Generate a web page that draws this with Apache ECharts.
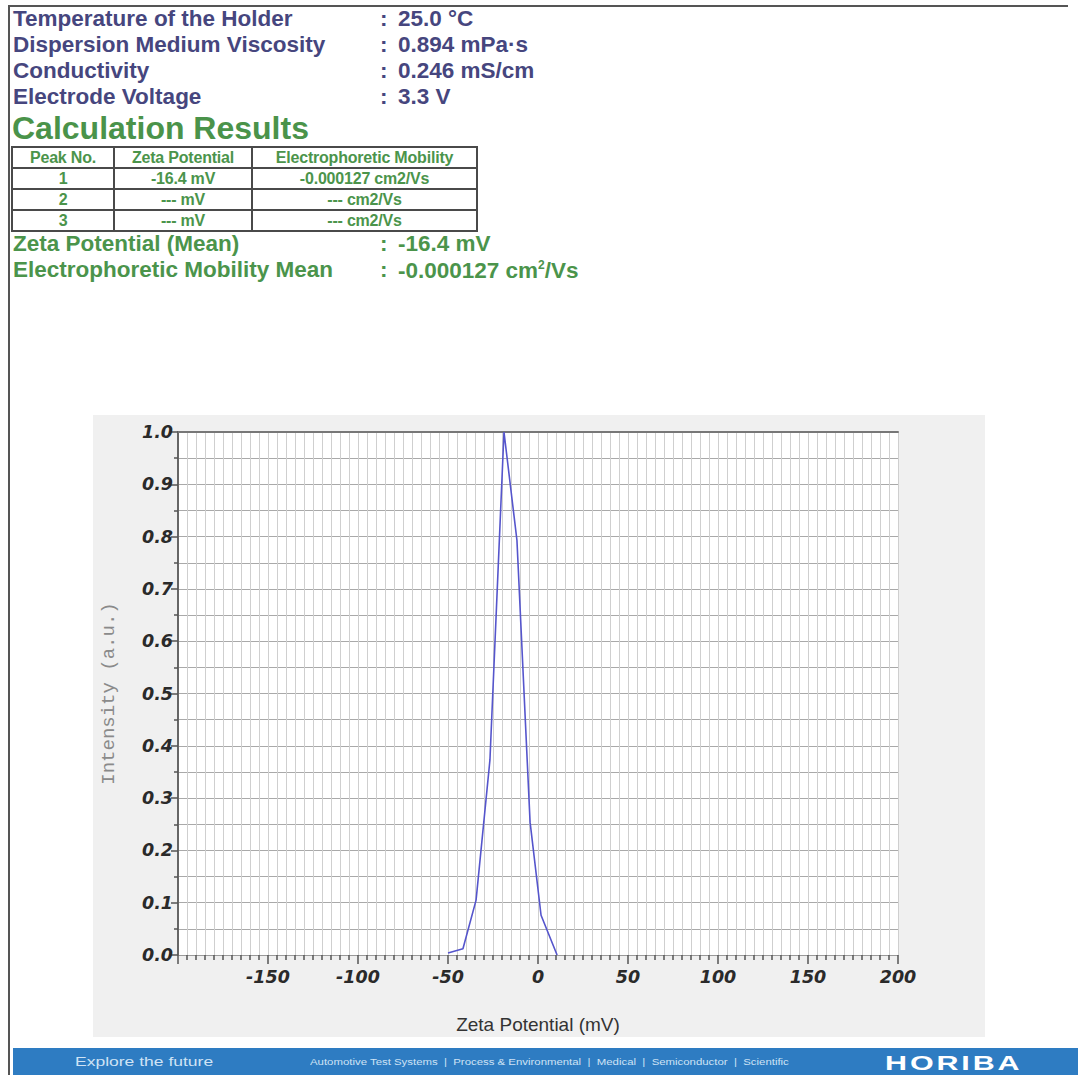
<!DOCTYPE html>
<html>
<head>
<meta charset="utf-8">
<script src="https://cdn.jsdelivr.net/npm/echarts@6/dist/echarts.min.js"></script>
<style>
  html, body { margin: 0; padding: 0; background: #fff; }
  body { width: 1078px; height: 1075px; position: relative; overflow: hidden; font-family: "Liberation Sans", Arial, sans-serif; }
  .frameTop { position: absolute; left: 8px; top: 5px; width: 1060px; height: 2px; background: #555; }
  .frameLeft { position: absolute; left: 8px; top: 5px; width: 2px; height: 1070px; background: #555; }
  .t { position: absolute; white-space: nowrap; font-weight: bold; line-height: 1; }
  .navy { color: #46467e; font-size: 22.5px; }
  .green { color: #4b944b; font-size: 22.5px; }
  .big { color: #4a934a; font-size: 32px; font-weight: bold; }
  table.res { position: absolute; left: 11px; top: 146px; border-collapse: collapse; border: 2px solid #4a4a4a; }
  table.res td { border: 2px solid #4a4a4a; padding: 0; height: 19px; text-align: center; color: #4b944b; font-weight: bold; font-size: 16px; line-height: 17px; font-family: "Liberation Sans", Arial, sans-serif; letter-spacing: -0.2px; }
  #chart { position: absolute; left: 93px; top: 415px; width: 892px; height: 622px; background: #f0f0f0; }
  .footer { position: absolute; left: 13px; top: 1048px; width: 1065px; height: 27px; background: #2e7cc2; }
  .ft { position: absolute; color: #cfe3f5; white-space: nowrap; transform-origin: left center; }
</style>
</head>
<body>
<div class="frameTop"></div>
<div class="frameLeft"></div>
<div id="hdr"></div>
<div id="chart"></div>
<div class="footer">
  <div class="ft" style="left:62px; top:7px; font-size:12.5px; transform:scaleX(1.4);">Explore the future</div>
  <div class="ft" style="left:297px; top:9px; font-size:8.5px; transform:scaleX(1.34);">Automotive Test Systems &nbsp;|&nbsp; Process &amp; Environmental &nbsp;|&nbsp; Medical &nbsp;|&nbsp; Semiconductor &nbsp;|&nbsp; Scientific</div>
  <div class="ft" style="left:872px; top:3px; font-size:21px; font-weight:900; color:#ffffff; letter-spacing:2px; transform:scaleX(1.45);">HORIBA</div>
</div>
<script>
// ---- Measurement conditions ----
const condLabels = ["Temperature of the Holder", "Dispersion Medium Viscosity", "Conductivity", "Electrode Voltage"];
const condValues = ["25.0 \u00b0C", "0.894 mPa\u00b7s", "0.246 mS/cm", "3.3 V"];
// ---- Results table ----
const tableHeader = ["Peak No.", "Zeta Potential", "Electrophoretic Mobility"];
const peakNo = ["1", "2", "3"];
const peakZeta = ["-16.4 mV", "--- mV", "--- mV"];
const peakMobility = ["-0.000127 cm2/Vs", "--- cm2/Vs", "--- cm2/Vs"];
const meanLabels = ["Zeta Potential (Mean)", "Electrophoretic Mobility Mean"];
const meanValues = ["-16.4 mV", "-0.000127 cm<sup style=\"font-size:12px\">2</sup>/Vs"];
// ---- Distribution curve ----
const zetaPotential = [-50, -41.7, -34.4, -26.7, -18.9, -11.7, -4.4, 1.7, 10.6];
const intensity = [0.004, 0.012, 0.105, 0.373, 1.0, 0.793, 0.254, 0.076, 0.0];
const xTickLabels = ["-150", "-100", "-50", "0", "50", "100", "150", "200"];
const yTickLabels = ["0.0", "0.1", "0.2", "0.3", "0.4", "0.5", "0.6", "0.7", "0.8", "0.9", "1.0"];

// build header
const hdr = document.getElementById('hdr');
let html = '';
condLabels.forEach((l, i) => {
  const y = 8 + i * 26;
  html += `<div class="t navy" style="left:13px;top:${y}px">${l}</div>`;
  html += `<div class="t navy" style="left:380px;top:${y}px">:</div>`;
  html += `<div class="t navy" style="left:398px;top:${y}px">${condValues[i]}</div>`;
});
html += `<div class="t big" style="left:12px;top:112px">Calculation Results</div>`;
const widths = [100, 136, 223];
html += '<table class="res"><tr>' + tableHeader.map((h, i) => `<td style="width:${widths[i]}px">${h}</td>`).join('') + '</tr>';
peakNo.forEach((p, i) => {
  html += `<tr><td>${p}</td><td>${peakZeta[i]}</td><td>${peakMobility[i]}</td></tr>`;
});
html += '</table>';
meanLabels.forEach((l, i) => {
  const y = 233 + i * 26;
  html += `<div class="t green" style="left:13px;top:${y}px">${l}</div>`;
  html += `<div class="t green" style="left:380px;top:${y}px">:</div>`;
  html += `<div class="t green" style="left:398px;top:${y}px">${meanValues[i]}</div>`;
});
hdr.innerHTML = html;

const chart = echarts.init(document.getElementById('chart'), null, { renderer: 'svg' });
const labelFont = { fontFamily: 'DejaVu Sans', fontWeight: 'bold', fontStyle: 'italic', fontSize: 17.5, color: '#2a2a2a' };
chart.setOption({
  animation: false,
  backgroundColor: '#f0f0f0',
  grid: { left: 85, top: 17, right: 87, bottom: 82, show: true, backgroundColor: '#ffffff', borderWidth: 0, outerBoundsMode: 'none', containLabel: false },
  xAxis: [{
    type: 'value', min: -200, max: 200, interval: 50,
    name: 'Zeta Potential (mV)', nameLocation: 'middle', nameGap: 60,
    nameTextStyle: { fontFamily: 'Liberation Sans', fontSize: 19, color: '#333' },
    axisLine: { show: true, onZero: false, lineStyle: { color: '#9a9a9a', width: 1 } },
    axisTick: { show: true, length: 9, lineStyle: { color: '#555', width: 1.5 } },
    minorTick: { show: true, splitNumber: 10, length: 5, lineStyle: { color: '#555', width: 1.5 } },
    splitLine: { show: true, lineStyle: { color: '#cfcfcf', width: 1 } },
    minorSplitLine: { show: true, lineStyle: { color: '#cfcfcf', width: 1 } },
    axisLabel: Object.assign({ margin: 13, showMinLabel: false,
      formatter: v => { const i = Math.round((v + 150) / 50); return (i >= 0 && i < xTickLabels.length) ? xTickLabels[i] : ''; } }, labelFont)
  }, {
    type: 'value', min: -200, max: 200, position: 'top',
    axisLine: { show: true, onZero: false, lineStyle: { color: '#777', width: 2 } },
    axisTick: { show: false }, axisLabel: { show: false }, splitLine: { show: false }
  }],
  yAxis: {
    type: 'value', min: 0, max: 1, interval: 0.1,
    name: 'Intensity (a.u.)', nameLocation: 'middle', nameGap: 60,
    nameTextStyle: { fontFamily: 'Liberation Mono', fontSize: 19, color: '#8a8a8a' },
    axisLine: { show: true, onZero: false, lineStyle: { color: '#666', width: 2 } },
    axisTick: { show: true, length: 7, lineStyle: { color: '#555', width: 1.5 } },
    minorTick: { show: true, splitNumber: 2, length: 4, lineStyle: { color: '#555', width: 1.5 } },
    splitLine: { show: true, lineStyle: { color: '#a9a9a9', width: 1 } },
    minorSplitLine: { show: true, lineStyle: { color: '#a9a9a9', width: 1 } },
    axisLabel: Object.assign({ margin: 5,
      formatter: v => yTickLabels[Math.round(v * 10)] }, labelFont)
  },
  series: [{
    type: 'line',
    data: zetaPotential.map((x, i) => [x, intensity[i]]),
    symbol: 'none',
    lineStyle: { color: '#5555cc', width: 1.6 },
    z: 5
  }]
});
</script>
</body>
</html>
